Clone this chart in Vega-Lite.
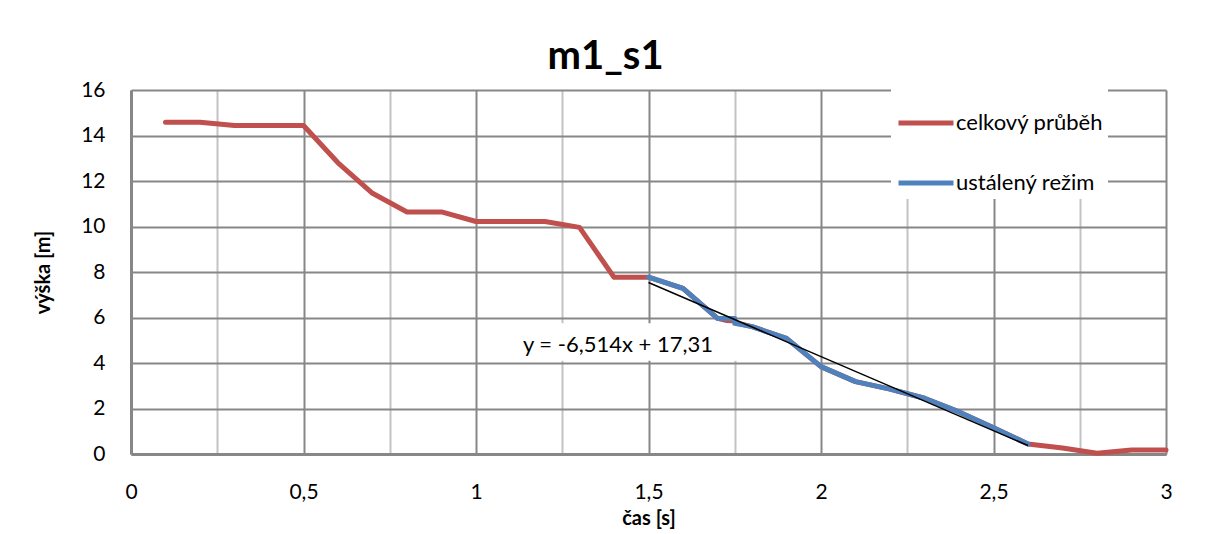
{
  "$schema": "https://vega.github.io/schema/vega-lite/v6.json",
  "width": 1035,
  "height": 364,
  "autosize": {"type": "none"},
  "padding": {"left": 131, "top": 90, "right": 41, "bottom": 80},
  "background": "white",
  "config": {"view": {"stroke": null}, "font": "Lato"},
  "title": {"text": "m1_s1", "fontSize": 40, "fontWeight": "bold", "font": "Lato", "color": "black", "anchor": "middle", "frame": "group", "dx": -43, "offset": 2},
  "data": {"values": [
    {"t": 0.1, "h": 14.58, "s": "celkový průběh"},
    {"t": 0.2, "h": 14.58, "s": "celkový průběh"},
    {"t": 0.3, "h": 14.44, "s": "celkový průběh"},
    {"t": 0.4, "h": 14.44, "s": "celkový průběh"},
    {"t": 0.5, "h": 14.44, "s": "celkový průběh"},
    {"t": 0.6, "h": 12.8, "s": "celkový průběh"},
    {"t": 0.7, "h": 11.46, "s": "celkový průběh"},
    {"t": 0.8, "h": 10.64, "s": "celkový průběh"},
    {"t": 0.9, "h": 10.64, "s": "celkový průběh"},
    {"t": 1.0, "h": 10.22, "s": "celkový průběh"},
    {"t": 1.1, "h": 10.22, "s": "celkový průběh"},
    {"t": 1.2, "h": 10.22, "s": "celkový průběh"},
    {"t": 1.3, "h": 9.96, "s": "celkový průběh"},
    {"t": 1.4, "h": 7.77, "s": "celkový průběh"},
    {"t": 1.5, "h": 7.77, "s": "celkový průběh"},
    {"t": 1.6, "h": 7.28, "s": "celkový průběh"},
    {"t": 1.7, "h": 5.96, "s": "celkový průběh"},
    {"t": 1.8, "h": 5.6, "s": "celkový průběh"},
    {"t": 1.9, "h": 5.08, "s": "celkový průběh"},
    {"t": 2.0, "h": 3.84, "s": "celkový průběh"},
    {"t": 2.1, "h": 3.18, "s": "celkový průběh"},
    {"t": 2.2, "h": 2.85, "s": "celkový průběh"},
    {"t": 2.3, "h": 2.45, "s": "celkový průběh"},
    {"t": 2.4, "h": 1.85, "s": "celkový průběh"},
    {"t": 2.5, "h": 1.15, "s": "celkový průběh"},
    {"t": 2.6, "h": 0.44, "s": "celkový průběh"},
    {"t": 2.7, "h": 0.26, "s": "celkový průběh"},
    {"t": 2.8, "h": 0.03, "s": "celkový průběh"},
    {"t": 2.9, "h": 0.18, "s": "celkový průběh"},
    {"t": 3.0, "h": 0.18, "s": "celkový průběh"},
    {"t": 1.5, "h": 7.77, "s": "ustálený režim"},
    {"t": 1.6, "h": 7.28, "s": "ustálený režim"},
    {"t": 1.7, "h": 5.96, "s": "ustálený režim"},
    {"t": 1.75, "h": 5.96, "s": "ustálený režim"},
    {"t": 1.75, "h": 5.74, "s": "ustálený režim"},
    {"t": 1.8, "h": 5.6, "s": "ustálený režim"},
    {"t": 1.9, "h": 5.08, "s": "ustálený režim"},
    {"t": 2.0, "h": 3.84, "s": "ustálený režim"},
    {"t": 2.1, "h": 3.18, "s": "ustálený režim"},
    {"t": 2.2, "h": 2.85, "s": "ustálený režim"},
    {"t": 2.3, "h": 2.45, "s": "ustálený režim"},
    {"t": 2.4, "h": 1.85, "s": "ustálený režim"},
    {"t": 2.5, "h": 1.15, "s": "ustálený režim"},
    {"t": 2.6, "h": 0.44, "s": "ustálený režim"}
  ]},
  "layer": [
    {
      "transform": [{"filter": "datum.s === 'celkový průběh'"}],
      "mark": {"type": "line", "strokeWidth": 5, "strokeCap": "round", "strokeJoin": "round"},
      "encoding": {
        "x": {"field": "t", "type": "quantitative",
          "scale": {"domain": [0, 3], "nice": false, "zero": false},
          "axis": {
            "values": [0, 0.25, 0.5, 0.75, 1, 1.25, 1.5, 1.75, 2, 2.25, 2.5, 2.75, 3],
            "title": "čas [s]",
            "grid": true,
            "gridColor": {"condition": {"test": "datum.value % 0.5 === 0", "value": "#878787"}, "value": "#c3c3c3"},
            "gridWidth": 2,
            "ticks": false,
            "domainColor": "#878787",
            "domainWidth": 3,
            "labelExpr": "datum.value % 0.5 === 0 ? replace(format(datum.value, '~g'), '.', ',') : ''",
            "labelFont": "Lato", "labelFontSize": 21, "labelColor": "black",
            "labelPadding": 27, "labelFlush": false, "labelOverlap": false,
            "titleFont": "Lato", "titleFontSize": 20, "titleFontWeight": "bold", "titleColor": "black",
            "titlePadding": 6
          }
        },
        "y": {"field": "h", "type": "quantitative",
          "scale": {"domain": [0, 16], "nice": false},
          "axis": {
            "values": [0, 2, 4, 6, 8, 10, 12, 14, 16],
            "title": "výška [m]",
            "grid": true,
            "gridColor": "#878787",
            "gridWidth": 2,
            "ticks": false,
            "domainColor": "#878787",
            "domainWidth": 3,
            "labelFont": "Lato", "labelFontSize": 21, "labelColor": "black",
            "labelPadding": 26,
            "titleFont": "Lato", "titleFontSize": 20, "titleFontWeight": "bold", "titleColor": "black",
            "titlePadding": 27
          }
        },
        "color": {"field": "s", "type": "nominal",
          "scale": {"domain": ["celkový průběh", "ustálený režim"], "range": ["#C0504D", "#4F81BD"]},
          "legend": {
            "title": null, "orient": "none", "legendX": 760, "legendY": -2,
            "symbolType": "stroke", "symbolSize": 3025, "symbolStrokeWidth": 5,
            "labelFont": "Lato", "labelFontSize": 22, "labelColor": "black", "labelOffset": 0,
            "fillColor": "white", "padding": 5, "rowPadding": 19
          }
        },
        "order": {"value": null}
      }
    },
    {
      "data": {"values": [{"label": "y = -6,514x + 17,31"}]},
      "mark": {"type": "rect", "color": "white"},
      "encoding": {
        "x": {"datum": 1.115},
        "x2": {"datum": 1.757},
        "y": {"datum": 4.1},
        "y2": {"datum": 5.75}
      }
    },
    {
      "transform": [{"filter": "datum.s === 'ustálený režim'"}],
      "mark": {"type": "line", "strokeWidth": 5, "strokeCap": "round", "strokeJoin": "round"},
      "encoding": {
        "x": {"field": "t", "type": "quantitative"},
        "y": {"field": "h", "type": "quantitative"},
        "color": {"field": "s", "type": "nominal"},
        "order": {"value": null}
      }
    },
    {
      "data": {"values": [{"t": 1.5, "h": 7.539}, {"t": 2.6, "h": 0.374}]},
      "mark": {"type": "line", "color": "black", "strokeWidth": 1.5},
      "encoding": {
        "x": {"field": "t", "type": "quantitative"},
        "y": {"field": "h", "type": "quantitative"}
      }
    },
    {
      "data": {"values": [{"label": "y = -6,514x + 17,31"}]},
      "mark": {"type": "text", "align": "left", "baseline": "middle", "fontSize": 22, "font": "Lato", "color": "black"},
      "encoding": {
        "x": {"datum": 1.136},
        "y": {"datum": 4.79},
        "text": {"field": "label"}
      }
    }
  ]
}
